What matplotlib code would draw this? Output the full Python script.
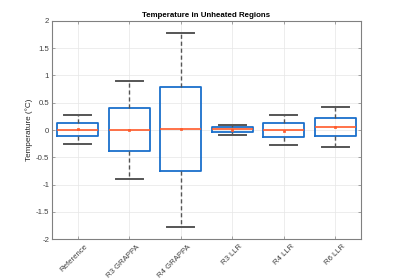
import matplotlib
matplotlib.use("Agg")
import matplotlib.pyplot as plt
import matplotlib.transforms as mtransforms

plt.rcParams['font.family'] = ['Liberation Sans', 'DejaVu Sans']

categories = ["Reference", "R3 GRAPPA", "R4 GRAPPA", "R3 LLR", "R4 LLR", "R6 LLR"]
medians = [0.0, 0.005, 0.02, 0.01, 0.0, 0.05]
means = [0.01, 0.005, 0.02, 0.0, -0.01, 0.05]
q1 = [-0.105, -0.39, -0.75, -0.044, -0.128, -0.11]
q3 = [0.12, 0.408, 0.79, 0.06, 0.12, 0.22]
whislo = [-0.256, -0.896, -1.78, -0.086, -0.27, -0.32]
whishi = [0.275, 0.907, 1.785, 0.097, 0.267, 0.413]

stats = []
for i, c in enumerate(categories):
    stats.append(dict(label=c, med=medians[i], mean=means[i], q1=q1[i], q3=q3[i],
                      whislo=whislo[i], whishi=whishi[i], fliers=[]))

fig = plt.figure(figsize=(4.0, 2.79), dpi=100)
ax = fig.add_axes([0.13, 0.143, 0.7725, 0.782])

blue = "#1a6fcc"
orange = "#ff5a2a"
gray = "#555555"

ax.bxp(stats, positions=range(1, 7), widths=0.8, showmeans=True, showfliers=False,
       boxprops=dict(color=blue, linewidth=1.3),
       medianprops=dict(color=orange, linewidth=1.2),
       whiskerprops=dict(color=gray, linewidth=1.0, linestyle=(0, (3, 2))),
       capprops=dict(color=gray, linewidth=1.4),
       meanprops=dict(marker='s', markerfacecolor=orange, markeredgecolor=orange,
                      markersize=2, markeredgewidth=0.5),
       capwidths=0.53)

ax.set_xlim(0.5, 6.5)
ax.set_ylim(-2, 2)
ax.set_yticks([-2, -1.5, -1, -0.5, 0, 0.5, 1, 1.5, 2])
ax.set_yticklabels(["-2", "-1.5", "-1", "-0.5", "0", "0.5", "1", "1.5", "2"])
ax.set_xticks(range(1, 7))
ax.set_xticklabels(categories, rotation=45, ha="right", va="top", rotation_mode="anchor")
ax.tick_params(labelsize=5.6, labelcolor="#404040", color="#808080", length=2, width=0.5,
               direction="in", top=True, right=True)
ax.tick_params(axis="x", pad=3)
ax.tick_params(axis="y", pad=2)
offset = mtransforms.ScaledTranslation(5 / 72, 0, fig.dpi_scale_trans)
for lbl in ax.get_xticklabels():
    lbl.set_transform(lbl.get_transform() + offset)
ax.grid(True, color="#e6e6e6", linewidth=0.5)
ax.set_axisbelow(True)
for s in ax.spines.values():
    s.set_color("#808080")
    s.set_linewidth(0.8)
ax.set_title("Temperature in Unheated Regions", fontsize=5.7, fontweight="bold", pad=3)
ax.set_ylabel("Temperature (°C)", fontsize=5.9, color="#262626", labelpad=2)

fig.savefig("out.png", dpi=100)
